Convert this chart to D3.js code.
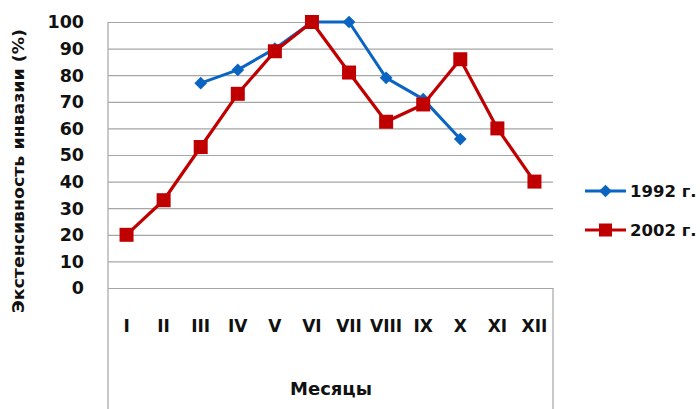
<!DOCTYPE html>
<html>
<head>
<meta charset="utf-8">
<script src="https://cdn.jsdelivr.net/npm/d3@7"></script>
<style>
  body { margin: 0; background: #fff; }
  svg { display: block; font-family: 'DejaVu Sans', sans-serif; font-weight: 700; }
</style>
</head>
<body>
<div id="chart"></div>
<script>
const months = ['I', 'II', 'III', 'IV', 'V', 'VI', 'VII', 'VIII', 'IX', 'X', 'XI', 'XII'];
const yTicks = [0, 10, 20, 30, 40, 50, 60, 70, 80, 90, 100];
// null = no observation that month
const values1992 = [null, null, 77, 82, 90, 100, 100, 79, 71, 56, null, null];
const values2002 = [20, 33, 53, 73, 89, 100, 81, 62.5, 69, 86, 60, 40];
const seriesNames = ['1992 г.', '2002 г.'];

const W = 700, H = 409;
const plot = { left: 108, right: 553, top: 22, bottom: 288 };

const svg = d3.select('#chart').append('svg')
  .attr('width', W).attr('height', H)
  .attr('viewBox', `0 0 ${W} ${H}`);

const x = d3.scaleBand().domain(months).range([plot.left, plot.right]);
const y = d3.scaleLinear().domain([0, 100]).range([plot.bottom, plot.top]);

// gridlines
svg.append('g')
  .attr('transform', `translate(${plot.left},0)`)
  .call(d3.axisLeft(y).tickValues(yTicks).tickSize(-(plot.right - plot.left)).tickFormat(''))
  .call(g => g.select('.domain').remove())
  .call(g => g.selectAll('line').attr('stroke', '#a6a6a6').attr('stroke-width', 1.2));

// y labels
svg.append('g')
  .selectAll('text')
  .data(yTicks)
  .enter()
  .append('text')
  .attr('x', 84)
  .attr('y', d => y(d))
  .attr('dy', '0.36em')
  .attr('text-anchor', 'end')
  .attr('font-size', 17.5)
  .attr('fill', '#111')
  .text(d => d);

// left axis line + category box
svg.append('line')
  .attr('x1', plot.left).attr('x2', plot.left)
  .attr('y1', plot.top).attr('y2', H)
  .attr('stroke', '#a6a6a6').attr('stroke-width', 1.2);
svg.append('line')
  .attr('x1', plot.right).attr('x2', plot.right)
  .attr('y1', plot.bottom).attr('y2', H)
  .attr('stroke', '#a6a6a6').attr('stroke-width', 1.2);

// x labels
svg.append('g')
  .selectAll('text')
  .data(months)
  .enter()
  .append('text')
  .attr('x', d => x(d) + x.bandwidth() / 2)
  .attr('y', 326)
  .attr('dy', '0.36em')
  .attr('text-anchor', 'middle')
  .attr('font-size', 17)
  .attr('fill', '#111')
  .text(d => d);

svg.append('text')
  .attr('x', 331).attr('y', 389)
  .attr('dy', '0.36em')
  .attr('text-anchor', 'middle')
  .attr('font-size', 18)
  .attr('fill', '#111')
  .text('Месяцы');

svg.append('text')
  .attr('transform', 'translate(18,171) rotate(-90)')
  .attr('dy', '0.36em')
  .attr('text-anchor', 'middle')
  .attr('font-size', 16)
  .attr('fill', '#111')
  .attr('textLength', 284)
  .attr('lengthAdjust', 'spacingAndGlyphs')
  .text('Экстенсивность инвазии (%)');

const cx = (d, i) => x(months[i]) + x.bandwidth() / 2;
const line = d3.line()
  .defined(d => d != null)
  .x(cx)
  .y(d => y(d));

const blue = '#0a64c2', red = '#c00000';

const pts1992 = values1992.map((v, i) => ({ v, i })).filter(d => d.v != null);
const pts2002 = values2002.map((v, i) => ({ v, i }));

svg.append('path').datum(values1992)
  .attr('d', line).attr('fill', 'none')
  .attr('stroke', blue).attr('stroke-width', 3).attr('stroke-linejoin', 'round');
svg.selectAll('.d1992').data(pts1992).enter().append('rect')
  .attr('class', 'd1992')
  .attr('x', -4.5).attr('y', -4.5).attr('width', 9).attr('height', 9)
  .attr('transform', d => `translate(${cx(d.v, d.i)},${y(d.v)}) rotate(45)`)
  .attr('fill', blue);

svg.append('path').datum(values2002)
  .attr('d', line).attr('fill', 'none')
  .attr('stroke', red).attr('stroke-width', 3.2).attr('stroke-linejoin', 'round');
svg.selectAll('.d2002').data(pts2002).enter().append('rect')
  .attr('class', 'd2002')
  .attr('x', d => cx(d.v, d.i) - 7).attr('y', d => y(d.v) - 7)
  .attr('width', 14).attr('height', 14)
  .attr('fill', red);

// legend
const legend = svg.append('g').attr('transform', 'translate(585,0)');
const rows = [{ name: seriesNames[0], color: blue, y: 191 }, { name: seriesNames[1], color: red, y: 230 }];
rows.forEach((r, k) => {
  legend.append('line').attr('x1', 0).attr('x2', 41).attr('y1', r.y).attr('y2', r.y)
    .attr('stroke', r.color).attr('stroke-width', 3);
  if (k === 0) {
    legend.append('rect').attr('x', -4.5).attr('y', -4.5).attr('width', 9).attr('height', 9)
      .attr('transform', `translate(20.5,${r.y}) rotate(45)`).attr('fill', r.color);
  } else {
    legend.append('rect').attr('x', 14).attr('y', r.y - 6.5).attr('width', 13).attr('height', 13).attr('fill', r.color);
  }
  legend.append('text').attr('x', 45).attr('y', r.y).attr('dy', '0.36em')
    .attr('font-size', 16.5).attr('fill', '#111').text(r.name);
});
</script>
</body>
</html>
